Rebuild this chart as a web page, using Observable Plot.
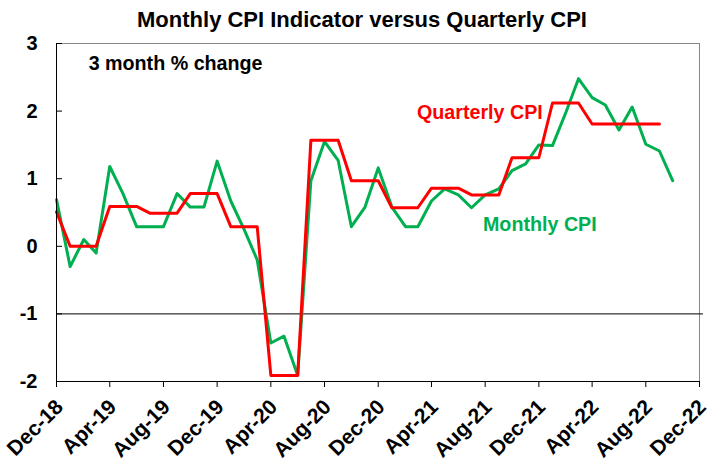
<!DOCTYPE html>
<html>
<head>
<meta charset="utf-8">
<script src="https://cdn.jsdelivr.net/npm/d3@7"></script>
<script src="https://cdn.jsdelivr.net/npm/@observablehq/plot@0.6"></script>
<style>
  body { margin: 0; background: #fff; font-family: "Liberation Sans", Arial, sans-serif; }
  #title { box-sizing: border-box; width: 724px; height: 33px; padding-top: 9px; font-size: 22px; line-height: 1; font-weight: bold; text-align: center; white-space: nowrap; color: #000; }
</style>
</head>
<body>
<div id="title">Monthly CPI Indicator versus Quarterly CPI</div>
<div id="chart"></div>
<script>
// ---- data (3 month % change) ----
const startMonth = "Dec-18";
const monthlyCPI = [
  0.69, -0.30, 0.10, -0.10, 1.18, 0.78, 0.29, 0.29, 0.29, 0.78, 0.58, 0.58,
  1.26, 0.67, 0.24, -0.20, -1.43, -1.33, -1.91, 0.97, 1.55, 1.27, 0.29, 0.58,
  1.16, 0.58, 0.29, 0.29, 0.67, 0.85, 0.76, 0.57, 0.76, 0.85, 1.12, 1.22,
  1.50, 1.49, 1.99, 2.48, 2.20, 2.09, 1.72, 2.06, 1.51, 1.41, 0.97
];
const quarterEnds = ["Dec-18", "Mar-19", "Jun-19", "Sep-19", "Dec-19", "Mar-20", "Jun-20", "Sep-20",
  "Dec-20", "Mar-21", "Jun-21", "Sep-21", "Dec-21", "Mar-22", "Jun-22", "Sep-22"];
const quarterlyCPI = [0.51, 0.00, 0.59, 0.49, 0.78, 0.29, -1.91, 1.57, 0.97, 0.57, 0.86, 0.76, 1.31, 2.12, 1.81, 1.81];
const xTickLabels = ["Dec-18", "Apr-19", "Aug-19", "Dec-19", "Apr-20", "Aug-20", "Dec-20",
  "Apr-21", "Aug-21", "Dec-21", "Apr-22", "Aug-22", "Dec-22"];
const yTicks = [-2, -1, 0, 1, 2, 3];
const seriesNames = ["Quarterly CPI", "Monthly CPI"];
const noteText = "3 month % change";

// ---- build tables ----
const parse = d3.utcParse("%b-%y");
const fmt = d3.utcFormat("%b-%y");
const start = parse(startMonth);
const monthly = monthlyCPI.map((v, i) => ({date: d3.utcMonth.offset(start, i), value: v}));
const quarterly = [];
quarterEnds.forEach((q, i) => {
  const end = parse(q);
  const n = i === 0 ? 1 : 3;
  for (let j = n - 1; j >= 0; j--) quarterly.push({date: d3.utcMonth.offset(end, -j), value: quarterlyCPI[i]});
});
const xTicks = xTickLabels.map(parse);

const font = '"Liberation Sans", Arial, sans-serif';
const chart = Plot.plot({
  width: 724,
  height: 439,
  marginTop: 10,
  marginBottom: 91,
  marginLeft: 56,
  marginRight: 25,
  style: {fontFamily: font, fontWeight: "bold", background: "white", color: "black", overflow: "visible"},
  x: {type: "utc", domain: [xTicks[0], xTicks[xTicks.length - 1]]},
  y: {domain: [yTicks[0], yTicks[yTicks.length - 1]]},
  marks: [
    Plot.frame({stroke: "#888"}),
    Plot.ruleY([-1], {stroke: "black", strokeWidth: 1, insetRight: -4}),
    Plot.lineY(monthly, {x: "date", y: "value", stroke: "#00B050", strokeWidth: 3}),
    Plot.lineY(quarterly, {x: "date", y: "value", stroke: "#FF0000", strokeWidth: 3}),
    Plot.axisY({ticks: yTicks, tickFormat: d => String(d), tickSize: -6, tickPadding: 25, fontSize: 20, fontWeight: "bold", label: null, stroke: "black"}),
    // tick marks only
    Plot.axisX({ticks: xTicks, tickFormat: () => "", tickSize: 6, label: null, stroke: "black"}),
    // rotated labels only
    Plot.axisX({ticks: xTicks, tickFormat: fmt, tickRotate: -45, tickSize: 0, tickPadding: 22, dx: 3, fontSize: 21, fontWeight: "bold", label: null}),
    Plot.ruleX([xTicks[0]], {stroke: "black"}),
    Plot.ruleY([yTicks[0]], {stroke: "black"}),
    Plot.text([noteText], {x: () => new Date(Date.UTC(2019, 1, 12)), y: () => 2.70, text: d => d, textAnchor: "start", lineAnchor: "middle", fontSize: 19.7, fontWeight: "bold", fill: "black"}),
    Plot.text([seriesNames[0]], {x: () => new Date(Date.UTC(2021, 1, 27)), y: () => 1.97, text: d => d, textAnchor: "start", lineAnchor: "middle", fontSize: 19.7, fontWeight: "bold", fill: "#FF0000"}),
    Plot.text([seriesNames[1]], {x: () => new Date(Date.UTC(2021, 6, 27)), y: () => 0.32, text: d => d, textAnchor: "start", lineAnchor: "middle", fontSize: 19.7, fontWeight: "bold", fill: "#00B050"})
  ]
});
document.getElementById("chart").appendChild(chart);
</script>
</body>
</html>
